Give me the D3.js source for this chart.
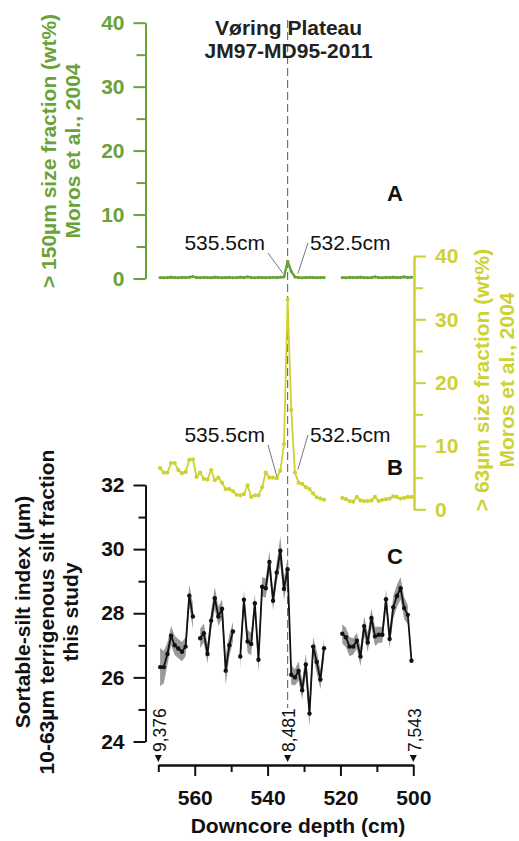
<!DOCTYPE html>
<html><head><meta charset="utf-8">
<script src="https://cdn.jsdelivr.net/npm/d3@7"></script>
<style>
body{margin:0;background:#fff}
text{font-family:"Liberation Sans",Arial,Helvetica,sans-serif}
</style>
</head><body>
<svg id="chart" width="519" height="841"></svg>
<script>
// ---------- DATA ----------
const depths = [569.5,568.5,567.5,566.5,565.5,564.5,563.5,562.5,561.5,560.5,
  559.5,558.5,557.5,556.5,555.5,554.5,553.5,552.5,551.5,550.5,
  549.5,548.5,547.5,546.5,545.5,544.5,543.5,542.5,541.5,540.5,
  539.5,538.5,537.5,536.5,535.5,534.5,533.5,532.5,531.5,530.5,
  529.5,528.5,527.5,526.5,525.5,524.5,523.5,522.5,521.5,520.5,
  519.5,518.5,517.5,516.5,515.5,514.5,513.5,512.5,511.5,510.5,
  509.5,508.5,507.5,506.5,505.5,504.5,503.5,502.5,501.5,500.5];

// A: >150 µm size fraction (wt%), Moros et al. 2004
const coarse150 = [0.15,0.12,0.15,0.2,0.15,0.12,0.18,0.15,0.2,0.3,
  0.15,0.12,0.18,0.15,0.12,0.2,0.15,0.12,0.15,0.18,
  0.12,0.15,0.2,0.15,0.25,0.15,0.12,0.18,0.15,0.12,
  0.15,0.18,0.15,0.2,0.25,2.7,1.1,0.25,0.15,0.12,
  0.15,0.18,0.15,0.12,0.15,0.15,null,null,null,null,
  0.15,0.12,0.18,0.15,0.15,0.2,0.15,0.12,0.15,0.25,
  0.15,0.12,0.18,0.15,0.2,0.15,0.15,0.25,0.15,0.2];

// B: >63 µm size fraction (wt%), Moros et al. 2004
const coarse63 = [6.5,5.8,5.8,7.3,7.3,6.2,5.7,5.9,7.8,7.9,
  5.1,5.8,4.8,4.7,6.2,4.6,5.0,4.2,3.2,3.2,
  2.85,2.3,2.2,2.4,3.8,1.95,2.2,2.2,3.5,5.8,
  5.0,5.0,4.9,6.1,10.3,33.1,15.7,5.8,4.2,4.0,
  3.5,3.2,2.5,1.9,1.7,1.5,null,null,null,null,
  1.8,1.6,1.3,1.2,1.95,1.4,1.3,1.3,1.4,1.95,
  1.3,1.5,1.6,1.7,2.05,1.95,1.7,1.8,1.95,1.95];

// C: sortable-silt mean size (µm), this study
const sortableSilt = [26.32,26.32,26.73,27.3,27.0,26.9,26.8,26.96,28.55,27.9,
  null,27.22,27.38,26.73,27.77,28.47,27.9,28.14,26.21,27.0,
  27.43,null,26.65,28.42,27.12,27.04,28.31,26.55,28.83,28.78,
  29.6,28.39,29.27,29.95,28.76,29.37,26.08,26.0,26.2,25.6,
  26.4,24.87,26.96,26.48,25.93,26.91,null,null,null,null,
  27.36,27.25,26.96,26.96,27.14,26.65,27.6,27.09,27.85,27.28,
  27.33,27.33,28.44,27.2,28.19,28.54,28.78,28.16,27.95,26.52];

const siltError = [0.6,0.5,0.35,0.3,0.3,0.3,0.3,0.3,0.35,0.4,
  null,0.3,0.3,0.3,0.3,0.35,0.3,0.3,0.45,0.35,
  0.3,null,0.4,0.3,0.35,0.35,0.3,0.4,0.3,0.3,
  0.35,0.3,0.3,0.45,0.35,0.35,0.3,0.25,0.3,0.3,
  0.35,0.4,0.3,0.35,0.3,0.3,null,null,null,null,
  0.3,0.3,0.3,0.25,0.25,0.3,0.3,0.3,0.3,0.3,
  0.25,0.25,0.3,0.3,0.35,0.35,0.35,0.35,0.3,null];

const ticksA = [0,10,20,30,40];
const minorA = [5,15,25,35];
const ticksB = [0,10,20,30,40];
const minorB = [5,15,25,35];
const ticksC = [24,26,28,30,32];
const minorC = [25,27,29,31];
const ticksX = [560,540,520,500];
const minorX = [570,550,530,510];

const ageDepths = [570,534.5,500];
const ageLabels = ["9,376","8,481","7,543"];
const eventDepth = 534.5;
const annotDepths = [535.5,532.5];
const annotLabels = ["535.5cm","532.5cm"];

const titleLines = ["Vøring Plateau","JM97-MD95-2011"];
const titleA = ["> 150µm size fraction (wt%)","Moros et al., 2004"];
const titleB = ["> 63µm size fraction (wt%)","Moros et al., 2004"];
const titleC = ["Sortable-silt index (µm)","10-63µm terrigenous silt fraction","this study"];

// ---------- STYLE ----------
const GREEN = "#6aa23a", YELLOW = "#cdd232", BLACK = "#111";
const FS = 21;

const svg = d3.select("#chart");

const x = d3.scaleLinear().domain([570,500]).range([158.3,413.3]);
const yA = d3.scaleLinear().domain([0,40]).range([278.5,22.7]);
const yB = d3.scaleLinear().domain([0,40]).range([509.3,256]);
const yC = d3.scaleLinear().domain([24,32]).range([741.5,485]);

const axLeftX = 145.5, axRightX = 414, axBottomY = 765;

// event dashed line
svg.append("line")
  .attr("x1",x(eventDepth)).attr("x2",x(eventDepth))
  .attr("y1",20).attr("y2",708)
  .attr("stroke","#666").attr("stroke-width",1.1)
  .attr("stroke-dasharray","8,4");

// title
svg.append("g").selectAll("text").data(titleLines).join("text")
  .attr("x",x(eventDepth)+1).attr("y",(d,i)=>35+i*23)
  .attr("text-anchor","middle").attr("font-size",FS).attr("font-weight","bold")
  .attr("fill","#222").text(d=>d);

function styleAxis(g,color){
  g.selectAll("path.domain").attr("stroke",color).attr("stroke-width",2);
  g.selectAll(".tick line").attr("stroke",color).attr("stroke-width",2);
  g.selectAll(".tick text").attr("fill",color).attr("font-size",FS).attr("font-weight","bold")
    .attr("font-family","'Liberation Sans',Arial,sans-serif");
}

// ---- Panel A axis ----
const gA = svg.append("g").attr("transform",`translate(${axLeftX},0)`)
  .call(d3.axisLeft(yA).tickValues(ticksA).tickSize(12).tickSizeOuter(0).tickPadding(9));
styleAxis(gA,GREEN);
const gAm = svg.append("g").attr("transform",`translate(${axLeftX},0)`)
  .call(d3.axisLeft(yA).tickValues(minorA).tickSize(9).tickSizeOuter(0).tickFormat(""));
styleAxis(gAm,GREEN);

// ---- Panel B axis ----
const gB = svg.append("g").attr("transform",`translate(${axRightX},0)`)
  .call(d3.axisRight(yB).tickValues(ticksB).tickSize(12).tickSizeOuter(0).tickPadding(9));
styleAxis(gB,YELLOW);
const gBm = svg.append("g").attr("transform",`translate(${axRightX},0)`)
  .call(d3.axisRight(yB).tickValues(minorB).tickSize(9).tickSizeOuter(0).tickFormat(""));
styleAxis(gBm,YELLOW);

// ---- Panel C axis ----
const gC = svg.append("g").attr("transform",`translate(${axLeftX},0)`)
  .call(d3.axisLeft(yC).tickValues(ticksC).tickSize(12).tickSizeOuter(0).tickPadding(9));
styleAxis(gC,BLACK);
const gCm = svg.append("g").attr("transform",`translate(${axLeftX},0)`)
  .call(d3.axisLeft(yC).tickValues(minorC).tickSize(7).tickSizeOuter(0).tickFormat(""));
styleAxis(gCm,BLACK);

// ---- X axis ----
const gX = svg.append("g").attr("transform",`translate(0,${axBottomY})`)
  .call(d3.axisBottom(x).tickValues(ticksX).tickSize(11).tickSizeOuter(0).tickPadding(14));
styleAxis(gX,BLACK);
const gXm = svg.append("g").attr("transform",`translate(0,${axBottomY})`)
  .call(d3.axisBottom(x).tickValues(minorX).tickSize(7).tickSizeOuter(0).tickFormat(""));
styleAxis(gXm,BLACK);

svg.append("text").attr("x",298).attr("y",833)
  .attr("text-anchor","middle").attr("font-size",FS).attr("font-weight","bold")
  .attr("fill",BLACK).text("Downcore depth (cm)");

// rotated axis titles
function rotTitle(lines,xs,yc,color){
  lines.forEach((t,i)=>{
    svg.append("text")
      .attr("transform",`translate(${xs[i]},${yc}) rotate(-90)`)
      .attr("text-anchor","middle").attr("dy","0.35em")
      .attr("font-size",FS).attr("font-weight","bold").attr("fill",color).text(t);
  });
}
rotTitle(titleA,[49,73],151,GREEN);
rotTitle(titleB,[482,507],380,YELLOW);
rotTitle(titleC,[23,47,71],612,BLACK);

// ---------- DATA MARKS ----------
const recA = depths.map((d,i)=>({d,v:coarse150[i]}));
const recB = depths.map((d,i)=>({d,v:coarse63[i]}));
const recC = depths.map((d,i)=>({d,v:sortableSilt[i],e:siltError[i]}));

// Panel C band
svg.append("path").datum(recC)
  .attr("fill","#9a9a9a")
  .attr("d",d3.area().defined(r=>r.v!=null && r.e!=null)
    .x(r=>x(r.d)).y0(r=>yC(r.v-r.e)).y1(r=>yC(r.v+r.e)));

// lines
function drawSeries(rec,yS,color,w,r){
  svg.append("path").datum(rec).attr("fill","none").attr("stroke",color)
    .attr("stroke-width",w).attr("stroke-linejoin","round")
    .attr("d",d3.line().defined(q=>q.v!=null).x(q=>x(q.d)).y(q=>yS(q.v)));
  svg.append("g").selectAll("circle").data(rec.filter(q=>q.v!=null)).join("circle")
    .attr("cx",q=>x(q.d)).attr("cy",q=>yS(q.v)).attr("r",r).attr("fill",color);
}
drawSeries(recA,yA,GREEN,2.4,1.6);
drawSeries(recB,yB,YELLOW,1.8,2.1);
drawSeries(recC,yC,BLACK,1.8,2.2);

// annotations (labels with leader lines)
function annot(yS,series,labelY,leftEnd,rightEnd){
  // left label (535.5cm)
  const d0 = annotDepths[0], d1 = annotDepths[1];
  svg.append("text").attr("x",x(d0)-19).attr("y",labelY).attr("text-anchor","end")
    .attr("font-size",FS).attr("fill",BLACK).text(annotLabels[0]);
  svg.append("line").attr("x1",x(d0)-16).attr("y1",labelY+3)
    .attr("x2",leftEnd[0]).attr("y2",leftEnd[1]).attr("stroke","#555").attr("stroke-width",0.8);
  svg.append("text").attr("x",x(d1)+15).attr("y",labelY).attr("text-anchor","start")
    .attr("font-size",FS).attr("fill",BLACK).text(annotLabels[1]);
  svg.append("line").attr("x1",x(d1)+13).attr("y1",labelY-7)
    .attr("x2",rightEnd[0]).attr("y2",rightEnd[1]).attr("stroke","#555").attr("stroke-width",0.8);
}
const iL = depths.indexOf(annotDepths[0]), iR = depths.indexOf(annotDepths[1]);
annot(yA,coarse150,250,[x(annotDepths[0])-1,yA(0)-5],[x(annotDepths[1])+3,yA(0)-5]);
annot(yB,coarse63,442,[x(annotDepths[0])-7,yB(coarse63[iL-1])+6],[x(annotDepths[1])+3,yB(coarse63[iR])-3]);

// panel letters
[["A",yA(0)-78],["B",475],["C",564]].forEach(([t,yy])=>{
  svg.append("text").attr("x",395).attr("y",yy).attr("text-anchor","middle")
    .attr("font-size",22).attr("font-weight","bold").attr("fill",BLACK).text(t);
});

// age markers
ageDepths.forEach((d,i)=>{
  const cx = x(d);
  svg.append("path").attr("d",`M${cx-3.5},755 L${cx+3.5},755 L${cx},762 Z`).attr("fill",BLACK);
  svg.append("text").attr("transform",`translate(${cx+7.5},752) rotate(-90)`)
    .attr("font-size",17.5).attr("fill",BLACK).text(ageLabels[i]);
});
</script>
</body></html>
